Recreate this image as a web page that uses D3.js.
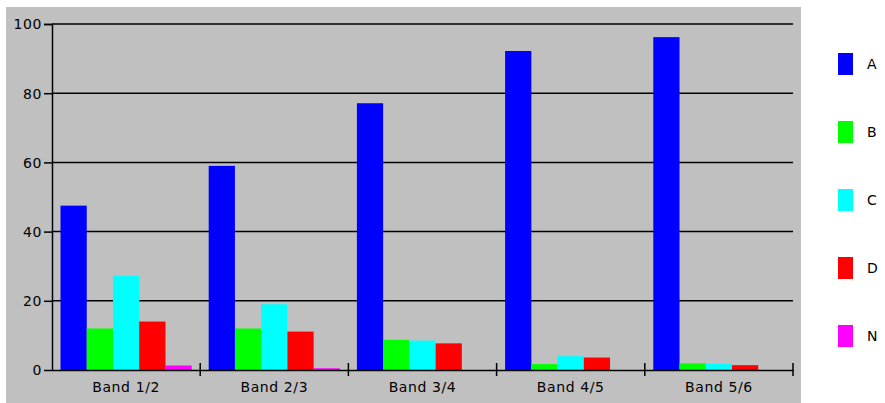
<!DOCTYPE html>
<html>
<head>
<meta charset="utf-8">
<script src="https://cdn.jsdelivr.net/npm/d3@7"></script>
<style>
  body { margin: 0; background: #fff; }
  text { font-family: "DejaVu Sans", sans-serif; font-size: 14px; letter-spacing: 0.6px; fill: #000; }
</style>
</head>
<body>
<script>
// chart data
const bands = ["Band 1/2", "Band 2/3", "Band 3/4", "Band 4/5", "Band 5/6"]
const seriesNames = ["A", "B", "C", "D", "N"]
const seriesColors = ["#0000ff", "#00ff00", "#00ffff", "#ff0000", "#ff00ff"]
const valuesA = [47.5, 59.0, 77.1, 92.2, 96.2]
const valuesB = [12.0, 12.0, 8.7, 1.7, 1.9]
const valuesC = [27.2, 19.0, 8.5, 4.0, 1.8]
const valuesD = [14.0, 11.1, 7.7, 3.6, 1.4]
const valuesN = [1.3, 0.5, 0, 0, 0]
const yTicks = [0, 20, 40, 60, 80, 100]

const allValues = [valuesA, valuesB, valuesC, valuesD, valuesN]

let rows = bands.map((b, i) => ({
    band: b,
    values: seriesNames.map((s, j) => ({ key: s, value: allValues[j][i] }))
}))

let svg = d3.select('body').append('svg')
    .attr("width", 885).attr("height", 403)

// gray panel
svg.append("rect")
    .attr("x", 6).attr("y", 7)
    .attr("width", 795).attr("height", 396)
    .attr("fill", "#c0c0c0")

let plotLeft = 52, plotRight = 793, plotTop = 24, plotBottom = 370

let x0 = d3.scaleBand().domain(bands).range([plotLeft, plotRight]).paddingInner(0).paddingOuter(0)
let x1 = d3.scaleBand().domain(seriesNames).range([8.5, x0.bandwidth() - 8.5])
let y = d3.scaleLinear().domain([0, 100]).range([plotBottom, plotTop])
let color = d3.scaleOrdinal().domain(seriesNames).range(seriesColors)

// grid lines
svg.append("g").selectAll("line").data(yTicks.filter(t => t > 0)).enter()
    .append("line")
    .attr("x1", plotLeft).attr("x2", plotRight)
    .attr("y1", d => y(d)).attr("y2", d => y(d))
    .attr("stroke", "#000").attr("stroke-width", 1.5)

// bars
svg.append("g").selectAll("g").data(rows).enter()
    .append("g")
    .attr("transform", d => `translate(${x0(d.band)},0)`)
    .selectAll("rect").data(d => d.values).enter()
    .append("rect")
    .attr("x", d => x1(d.key))
    .attr("width", x1.bandwidth())
    .attr("y", d => y(d.value))
    .attr("height", d => y(0) - y(d.value))
    .attr("fill", d => color(d.key))

// y axis
let yAxis = svg.append("g")
    .attr("transform", `translate(${plotLeft},0)`)
    .call(d3.axisLeft(y).tickValues(yTicks).tickSize(8).tickPadding(3).tickFormat(d3.format("d")))
yAxis.select(".domain").attr("stroke", "#000").attr("stroke-width", 1.5)
yAxis.selectAll(".tick line").attr("stroke-width", 1.5)
    .attr("opacity", d => d == 0 ? 0 : 1) // no tick mark at zero in the original
yAxis.selectAll("text").style("font-size", "14px").attr("dy", "0.35em")
    .attr("x", -10)

// x axis
let xAxis = svg.append("g")
    .attr("transform", `translate(0,${plotBottom})`)
    .call(d3.axisBottom(x0).tickSize(0).tickPadding(12))
xAxis.select(".domain").attr("stroke", "#000").attr("stroke-width", 1.5)
xAxis.selectAll("text").style("font-size", "14px")

// band separator ticks
svg.append("g").selectAll("line").data(bands.slice(1).concat(["end"])).enter()
    .append("line")
    .attr("x1", d => d == "end" ? plotRight : x0(d))
    .attr("x2", d => d == "end" ? plotRight : x0(d))
    .attr("y1", plotBottom - 7).attr("y2", plotBottom + 6)
    .attr("stroke", "#000").attr("stroke-width", 1.5)

// legend
let legend = svg.append("g").selectAll("g").data(seriesNames).enter()
    .append("g")
    .attr("transform", (d, i) => `translate(838,${53 + i * 68})`)
legend.append("rect")
    .attr("width", 15).attr("height", 22)
    .attr("fill", d => color(d))
legend.append("text")
    .attr("x", 29).attr("y", 11).attr("dy", "0.35em")
    .text(d => d)
</script>
</body>
</html>
